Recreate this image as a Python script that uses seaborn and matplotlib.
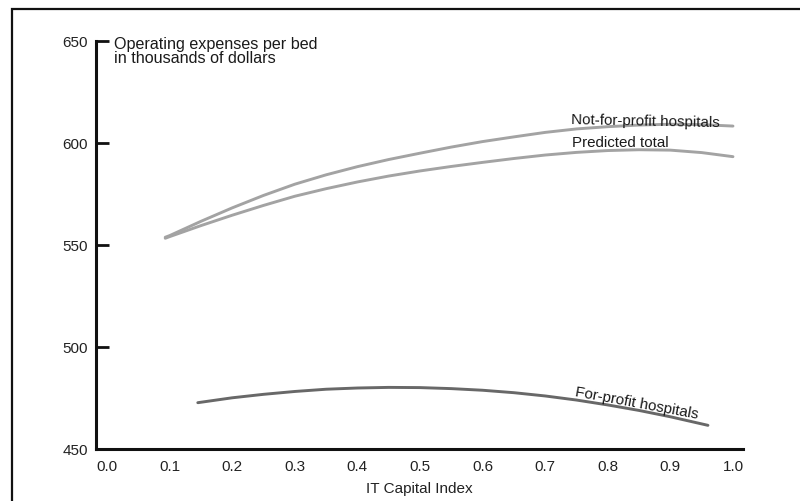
import matplotlib
matplotlib.use("Agg")
import matplotlib.pyplot as plt
import matplotlib.patches as mpatches
import numpy as np
import pandas as pd
import seaborn as sns

# IT capital index values at which the regression curves are read
x_nfp = [0.093, 0.10, 0.15, 0.20, 0.25, 0.30, 0.35, 0.40, 0.45, 0.50, 0.55,
         0.60, 0.65, 0.70, 0.75, 0.80, 0.85, 0.90, 0.95, 1.00]
not_for_profit = [553.8, 554.6, 561.6, 568.2, 574.3, 579.8, 584.4, 588.4, 591.9,
                  595.0, 598.0, 600.7, 603.0, 605.2, 606.9, 608.0, 608.8, 609.2,
                  609.0, 608.3]

x_total = [0.093, 0.10, 0.15, 0.20, 0.25, 0.30, 0.35, 0.40, 0.45, 0.50, 0.55,
           0.60, 0.65, 0.70, 0.75, 0.80, 0.85, 0.90, 0.95, 1.00]
predicted_total = [553.3, 554.1, 559.5, 564.6, 569.4, 573.9, 577.6, 580.9, 583.8,
                   586.3, 588.5, 590.5, 592.4, 594.1, 595.4, 596.3, 596.7, 596.5,
                   595.3, 593.3]

x_fp = [0.145, 0.20, 0.25, 0.30, 0.35, 0.40, 0.45, 0.50, 0.55, 0.60, 0.65,
        0.70, 0.75, 0.80, 0.85, 0.90, 0.95, 0.96]
for_profit = [472.7, 475.1, 476.8, 478.2, 479.3, 479.9, 480.2, 480.1, 479.6, 478.8,
              477.6, 476.0, 474.0, 471.6, 468.9, 465.8, 462.3, 461.6]

x_ticks = [0.0, 0.1, 0.2, 0.3, 0.4, 0.5, 0.6, 0.7, 0.8, 0.9, 1.0]
y_ticks = [450, 500, 550, 600, 650]

series_labels = ["Not-for-profit hospitals", "Predicted total", "For-profit hospitals"]

sns.set_theme(style="white")
plt.rcParams["font.family"] = ["Liberation Sans Narrow", "Liberation Sans", "DejaVu Sans"]
plt.rcParams["text.color"] = "#1a1a1a"

fig = plt.figure(figsize=(8.0, 5.02), dpi=100)
ax = fig.add_axes([96 / 800, 52 / 502, (743 - 96) / 800, (450 - 42) / 502])

light = "#a3a3a3"
dark = "#686868"

df_nfp = pd.DataFrame({"x": x_nfp, "y": not_for_profit})
df_tot = pd.DataFrame({"x": x_total, "y": predicted_total})
df_fp = pd.DataFrame({"x": x_fp, "y": for_profit})

sns.lineplot(data=df_nfp, x="x", y="y", ax=ax, color=light, lw=2.1, sort=True)
sns.lineplot(data=df_tot, x="x", y="y", ax=ax, color=light, lw=2.1, sort=True)
sns.lineplot(data=df_fp, x="x", y="y", ax=ax, color=dark, lw=2.1, sort=True)

ax.set_xlim(-0.0176, 1.016)
ax.set_ylim(450, 650)
ax.set_xticks(x_ticks)
ax.set_xticklabels([f"{v:.1f}" for v in x_ticks])
ax.set_yticks(y_ticks)
ax.set_yticklabels([str(v) for v in y_ticks])

for side in ("top", "right"):
    ax.spines[side].set_visible(False)
for side in ("left", "bottom"):
    ax.spines[side].set_linewidth(2.2)
    ax.spines[side].set_color("#111111")

ax.tick_params(axis="y", direction="in", length=9, width=2.0, color="#111111",
               labelsize=11, pad=6, left=True, labelcolor="#222222")
ax.tick_params(axis="x", length=0, labelsize=11, pad=7, labelcolor="#222222")

ax.set_xlabel("IT Capital Index", fontsize=11, labelpad=6, color="#222222")
ax.set_ylabel("")

sans = ["Liberation Sans", "DejaVu Sans"]

ax.text(0.011, 652.3, "Operating expenses per bed\nin thousands of dollars",
        fontsize=11.6, ha="left", va="top", linespacing=0.9, family=sans,
        clip_on=False)

ax.text(0.741, 612.0, series_labels[0], fontsize=10.9, ha="left", va="center",
        rotation=-1.2, rotation_mode="anchor", family=sans)
ax.text(0.743, 600.6, series_labels[1], fontsize=10.9, ha="left", va="center",
        rotation=0, rotation_mode="anchor", family=sans)
ax.text(0.846, 472.8, series_labels[2], fontsize=10.9, ha="center", va="center",
        rotation=-10.5, rotation_mode="anchor", family=sans)

# outer frame running off the right and bottom edges
frame = mpatches.Rectangle((12 / 800, -0.1), 1.2, (502 - 10) / 502 + 0.1,
                           transform=fig.transFigure, fill=False,
                           edgecolor="#111111", lw=1.6, clip_on=False)
fig.patches.append(frame)

fig.savefig("out.png", dpi=100)
